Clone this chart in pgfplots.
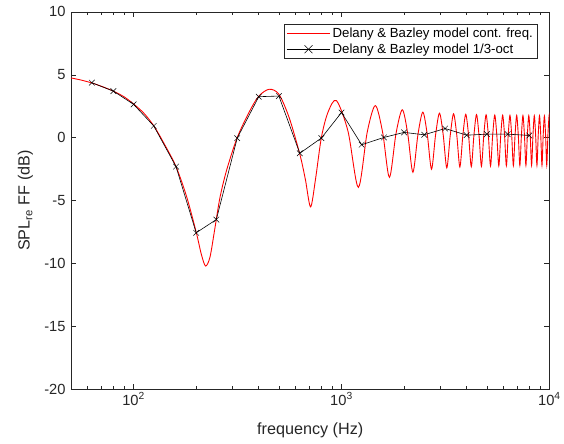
\documentclass[border=0pt]{standalone}
\usepackage{fontspec}
\setmainfont{Liberation Sans}
\usepackage{pgfplots}
\pgfplotsset{compat=1.18}
\definecolor{axgray}{RGB}{38,38,38}
\definecolor{mred}{RGB}{255,0,0}
\begin{document}
\begin{tikzpicture}
\begin{axis}[
  name=ax,
  scale only axis,
  width=481.8pt, height=380pt,
  xmode=log,
  xmin=50, xmax=10000,
  ymin=-20, ymax=10,
  xtick={100,1000,10000},
  xticklabels={10\textsuperscript{2},10\textsuperscript{3},10\textsuperscript{4}},
  minor xtick={60,70,80,90,200,300,400,500,600,700,800,900,2000,3000,4000,5000,6000,7000,8000,9000},
  ytick={-20,-15,-10,-5,0,5,10},
  yticklabels={-20,-15,-10,-5,0,5,10},
  tick align=inside,
  xtick pos=both, ytick pos=both,
  major tick length=5pt, minor tick length=3pt,
  axis line style={axgray, line width=0.6pt},
  every tick/.style={axgray, line width=0.6pt},
  tick label style={font=\fontsize{14.8}{17}\selectfont, text=axgray},
  yticklabel style={xshift=-2pt},
  label style={font=\fontsize{16.3}{19}\selectfont, text=axgray},
  xlabel={frequency (Hz)},
  ylabel={SPL\textsubscript{re} FF (dB)},
  xlabel style={at={(axis description cs:0.5,-0.108)}, anchor=center},
  ylabel style={at={(axis description cs:-0.095,0.5)}, anchor=center},
  legend style={at={(rel axis cs:0.974,0.968)}, anchor=north east,
    draw=axgray, font=\fontsize{13.3}{15}\selectfont,
    inner xsep=2pt, inner ysep=1.5pt, row sep=1pt},
  legend cell align=left,
]
\addlegendimage{legend image code/.code={\fill[fill=mred, draw=none] (0pt,-0.6pt) rectangle (44pt,0.6pt);}}
\addlegendentry{Delany \& Bazley model cont. freq.}
\addlegendimage{legend image code/.code={\draw[black, line width=0.6pt] (0pt,0pt) -- (44pt,0pt); \draw[black, line width=0.5pt] (18pt,-4pt) -- (26pt,4pt) (18pt,4pt) -- (26pt,-4pt);}}
\addlegendentry{Delany \& Bazley model 1/3-oct}
\addplot[mred, line width=0.9pt, smooth, tension=0.5, forget plot] coordinates {
(50,4.75) (56,4.58) (63,4.35) (71,4.05) (80,3.7) (90,3.25) (100,2.68)
(112,1.95) (125,0.95) (140,-0.45) (160,-2.3) (180,-4.7) (200,-7.5)
(212,-9.3) (222,-10.2) (233,-9.5) (245,-7.4) (260,-4.8) (280,-2.6)
(315,0.0) (360,2.05) (400,3.3) (449,3.85) (500,3.45) (560,1.6)
(630,-1.3) (670,-3.3) (710,-5.5) (750,-3.3) (800,0.0) (860,2.0)
(945,2.95) (1075,0.5) (1205,-3.95) (1330,0.45) (1455,2.55) (1578,0.4)
(1700,-3.15) (1830,0.35) (1962,2.22) (2083,0.3) (2205,-2.75) (2333,0.28)
(2462,2.03) (2586,0.25) (2710,-2.5) (2835,0.23) (2960,1.95) (3085,0.22)
(3210,-2.4) (3335,0.2) (3460,1.9) (3585,0.2) (3710,-2.33) (3835,0.2)
(3960,1.86) (4085,0.2) (4210,-2.3) (4335,0.2) (4460,1.84) (4585,0.2)
(4710,-2.27) (4835,0.2) (4960,1.82) (5085,0.2) (5210,-2.25) (5335,0.2)
(5460,1.8) (5585,0.2) (5710,-2.24) (5835,0.2) (5960,1.79) (6085,0.2)
(6210,-2.23) (6335,0.2) (6460,1.78) (6585,0.2) (6710,-2.22) (6835,0.2)
(6960,1.77) (7085,0.2) (7210,-2.21) (7335,0.2) (7460,1.76) (7585,0.2)
(7710,-2.2) (7835,0.2) (7960,1.76) (8085,0.2) (8210,-2.2) (8335,0.2)
(8460,1.75) (8585,0.2) (8710,-2.2) (8835,0.2) (8960,1.75) (9085,0.2)
(9210,-2.2) (9335,0.2) (9460,1.74) (9585,0.2) (9710,-2.2) (9835,0.2)
(9960,1.74) (10000,1.6)
};
\addplot[black, line width=0.6pt, mark=x, mark size=4pt, mark options={line width=0.5pt}, forget plot] coordinates {
(63,4.37) (80,3.70) (100,2.65) (125,0.94) (160,-2.30) (200,-7.56)
(250,-6.51) (315,-0.04) (400,3.26) (500,3.31) (630,-1.24) (800,-0.03)
(1000,2.0) (1250,-0.56) (1600,0.02) (2000,0.42) (2500,0.23) (3150,0.73)
(4000,0.2) (5000,0.28) (6300,0.28) (8000,0.18)
};
\end{axis}
\path ([xshift=-71.5pt,yshift=-55pt]ax.south west) rectangle ([xshift=10.7pt,yshift=12pt]ax.north east);
\end{tikzpicture}
\end{document}
